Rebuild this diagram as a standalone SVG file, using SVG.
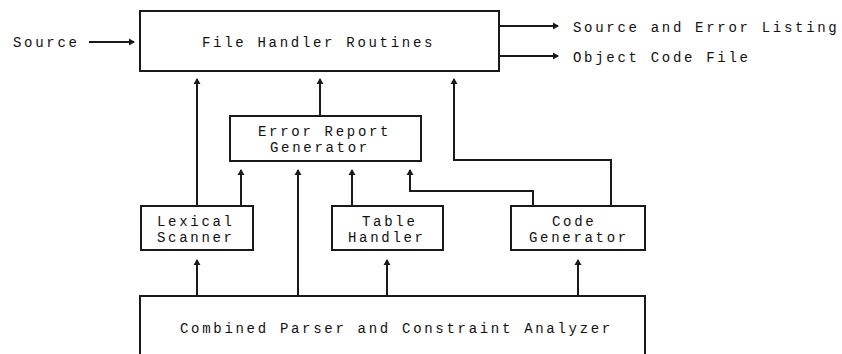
<svg xmlns="http://www.w3.org/2000/svg" width="842" height="354" viewBox="0 0 842 354">
<style>
.box{fill:#fff;stroke:#1a1a1a;stroke-width:2}
.ln{fill:none;stroke:#1a1a1a;stroke-width:2;marker-end:url(#ah)}
text{font-family:"Liberation Mono","DejaVu Sans Mono",monospace;font-size:14px;letter-spacing:2.7px;fill:#111}
</style>
<defs>
<marker id="ah" markerUnits="userSpaceOnUse" markerWidth="8" markerHeight="8" viewBox="0 -4 6 8" refX="5" refY="0" orient="auto">
<path d="M0,-3.5 L6,0 L0,3.5 z" fill="#1a1a1a"/>
</marker>
</defs>
<rect width="842" height="354" fill="#fff"/>
<g id="connectors">
<path class="ln" d="M89,42 H134"/>
<path class="ln" d="M499,26 H558"/>
<path class="ln" d="M499,56 H558"/>
<path class="ln" d="M197,206 V79"/>
<path class="ln" d="M320,116 V79"/>
<path class="ln" d="M241,206 V170"/>
<path class="ln" d="M298,296 V170"/>
<path class="ln" d="M352,206 V170"/>
<path class="ln" d="M533,206 V191 H410 V170"/>
<path class="ln" d="M611,206 V160 H454 V79"/>
<path class="ln" d="M197,296 V260"/>
<path class="ln" d="M387,296 V260"/>
<path class="ln" d="M578,296 V260"/>
</g>
<g id="source-label"><text x="13" y="47">Source</text></g>
<g id="out-listing"><text x="573" y="32">Source and Error Listing</text></g>
<g id="out-object"><text x="573" y="62">Object Code File</text></g>
<g id="file-handler">
<rect class="box" x="140" y="11" width="359" height="60"/>
<text x="202" y="47">File Handler Routines</text>
</g>
<g id="error-report">
<rect class="box" x="230" y="116" width="191" height="45"/>
<text x="258" y="136">Error Report</text>
<text x="270" y="152">Generator</text>
</g>
<g id="lexical">
<rect class="box" x="141" y="206" width="112" height="44"/>
<text x="157" y="226">Lexical</text>
<text x="157" y="242">Scanner</text>
</g>
<g id="table">
<rect class="box" x="332" y="206" width="111" height="44"/>
<text x="362" y="226">Table</text>
<text x="348" y="242">Handler</text>
</g>
<g id="codegen">
<rect class="box" x="511" y="206" width="134" height="44"/>
<text x="552" y="226">Code</text>
<text x="529" y="242">Generator</text>
</g>
<g id="parser">
<rect class="box" x="140" y="296" width="505" height="80"/>
<text x="180" y="333">Combined Parser and Constraint Analyzer</text>
</g>
</svg>
